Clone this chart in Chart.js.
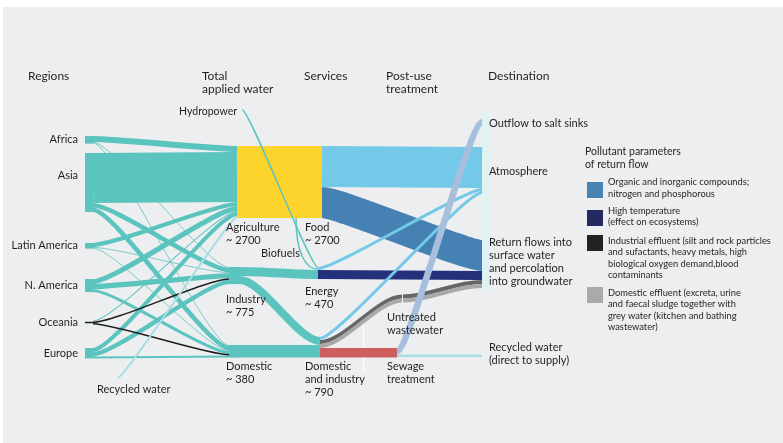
<!DOCTYPE html>
<html><head><meta charset="utf-8">
<script src="https://cdn.jsdelivr.net/npm/chart.js@4.4.1/dist/chart.umd.min.js"></script>
<style>html,body{margin:0;padding:0;background:#fff;overflow:hidden}#wrap{width:783px;height:443px}</style>
</head><body><div id="wrap"><canvas id="c" width="783" height="443"></canvas></div>
<script>
// ================= DATA (km³ per year) =================
const stages = ['Regions', 'Total applied water', 'Services', 'Post-use treatment', 'Destination'];
const regions = ['Africa', 'Asia', 'Latin America', 'N. America', 'Oceania', 'Europe'];
const regionToAgriculture = [225, 1875, 150, 190, 38, 150];
const regionToIndustry    = [30, 170, 30, 190, 56, 165];
const regionToDomestic    = [30, 170, 30, 112, 56, 75];
const recycledToAgriculture = 75;
const sectors = ['Agriculture', 'Industry', 'Domestic'];
const sectorTotals = [2700, 775, 380];
const services = ['Food', 'Energy', 'Domestic and industry'];
const serviceTotals = [2700, 470, 790];
const hydropowerToEnergy = 56;
const biofuelsToEnergy = 56;
const agricultureToFood = 2700;
const industryToServices = [337, 300];          // Energy, Domestic and industry
const domesticToServices = [472];               // Domestic and industry
const foodToDestinations = [1540, 1160];        // Atmosphere, Return flows
const energyToDestinations = [112, 337];        // Atmosphere, Return flows
const domIndOutflows = [112, 150, 150, 360];    // Atmosphere, untreated industrial, untreated domestic, sewage treatment
const untreatedToReturn = [150, 150];           // industrial effluent, domestic effluent
const sewageOutflows = [244, 94];               // Outflow to salt sinks, Recycled water (direct)
const destinations = ['Outflow to salt sinks', 'Atmosphere', 'Return flows', 'Recycled water (direct to supply)'];
const legendItems = [
  ['Organic and inorganic compounds;', 'nitrogen and phosphorous'],
  ['High temperature', '(effect on ecosystems)'],
  ['Industrial effluent (silt and rock particles', 'and sufactants, heavy metals, high', 'biological oxygen demand,blood', 'contaminants'],
  ['Domestic effluent (excreta, urine', 'and faecal sludge together with', 'grey water (kitchen and bathing', 'wastewater)']
];

// ================= LAYOUT & STYLE =================
const K = 37.5; // km³ per layout unit of band thickness
const C = {
  teal: '#5cc4be', yellow: '#fdd42b', sky: '#74c9e8', blue: '#4581b3', navy: '#25317a',
  black: '#1e1e1e', dgrey: '#666666', lgrey: '#a9a9a9', red: '#cf5e5f', salt: '#a7bfdc',
  recyc: '#a8dde4', text: '#231f20'
};
const legendColors = ['#4682b4', '#24295f', '#222222', '#aaaaaa'];
const nodeLayout = {
  'Africa': {x0: 85, x1: 93, top: 136},
  'Asia': {x0: 85, x1: 93, top: 153},
  'Latin America': {x0: 85, x1: 93, top: 243},
  'N. America': {x0: 85, x1: 93, top: 279},
  'Oceania': {x0: 85, x1: 93, top: 320.5},
  'Europe': {x0: 85, x1: 93, top: 348},
  'Recycled water': {x0: 118, x1: 118, top: 376.5},
  'Hydropower': {x0: 242, x1: 242, top: 109},
  'Biofuels': {x0: 296, x1: 296, top: 217},
  'Agriculture': {x0: 237, x1: 237, top: 146},
  'Industry': {x0: 229, x1: 240, top: 267},
  'Domestic': {x0: 229, x1: 240, top: 345},
  'Food': {x0: 322, x1: 322, top: 146},
  'Energy': {x0: 318, x1: 318, top: 267},
  'Domestic and industry': {x0: 320, x1: 320, top: 337},
  'Untreated wastewater': {x0: 402, x1: 402, top: 294.5},
  'Sewage treatment': {x0: 397, x1: 397, top: 348},
  'Outflow to salt sinks': {x0: 482, x1: 482, top: 119},
  'Atmosphere': {x0: 482, x1: 482, top: 147},
  'Return flows': {x0: 482, x1: 482, top: 240},
  'Recycled water (direct to supply)': {x0: 482, x1: 482, top: 354.5}
};

// ================= FLOWS =================
const flows = [];
function add(from, to, value, color, k, z, extra) { flows.push(Object.assign({from, to, value, color, k, z}, extra || {})); }
regions.forEach((r, i) => add(r, 'Agriculture', regionToAgriculture[i], C.teal, 22, regionToAgriculture[i] < 60 ? 1 : 2));
add('Recycled water', 'Agriculture', recycledToAgriculture, C.recyc, 8, 4);
regions.forEach((r, i) => add(r, 'Industry', regionToIndustry[i], r === 'Oceania' ? C.black : C.teal, 22, r === 'Oceania' ? 3 : (regionToIndustry[i] < 60 ? 1 : 2)));
regions.forEach((r, i) => add(r, 'Domestic', regionToDomestic[i], r === 'Oceania' ? C.black : C.teal, 22, r === 'Oceania' ? 3 : (regionToDomestic[i] < 60 ? 1 : 2)));
add('Agriculture', 'Food', agricultureToFood, C.yellow, 10, 5);
add('Hydropower', 'Energy', hydropowerToEnergy, C.teal, 8, 6);
add('Biofuels', 'Energy', biofuelsToEnergy, C.teal, 0, 6, {vertical: true});
add('Industry', 'Energy', industryToServices[0], C.teal, 20, 6);
add('Industry', 'Domestic and industry', industryToServices[1], C.teal, 22, 6);
add('Domestic', 'Domestic and industry', domesticToServices[0], C.teal, 20, 6);
add('Food', 'Atmosphere', foodToDestinations[0], C.sky, 10, 7);
add('Food', 'Return flows', foodToDestinations[1], C.blue, 18, 7);
add('Energy', 'Atmosphere', energyToDestinations[0], C.sky, 18, 9);
add('Energy', 'Return flows', energyToDestinations[1], C.navy, 10, 8);
add('Domestic and industry', 'Atmosphere', domIndOutflows[0], C.sky, 18, 9);
add('Domestic and industry', 'Untreated wastewater', domIndOutflows[1], C.dgrey, 24, 8);
add('Domestic and industry', 'Untreated wastewater', domIndOutflows[2], C.lgrey, 24, 8);
add('Domestic and industry', 'Sewage treatment', domIndOutflows[3], C.red, 10, 8);
add('Untreated wastewater', 'Return flows', untreatedToReturn[0], C.dgrey, 28, 8);
add('Untreated wastewater', 'Return flows', untreatedToReturn[1], C.lgrey, 28, 8);
add('Sewage treatment', 'Outflow to salt sinks', sewageOutflows[0], C.salt, 13, 10);
add('Sewage treatment', 'Recycled water (direct to supply)', sewageOutflows[1], C.recyc, 5, 10);

// stack flows at nodes
const nodes = {};
Object.keys(nodeLayout).forEach(n => nodes[n] = Object.assign({out: nodeLayout[n].top, inn: nodeLayout[n].top, sumOut: 0, sumIn: 0}, nodeLayout[n]));
flows.forEach(f => {
  const w = f.value / K, s = nodes[f.from], t = nodes[f.to];
  f.w = w; f.x0 = s.x1; f.y0 = s.out + w / 2; s.out += w; s.sumOut += w;
  f.x1 = t.x0; f.y1 = t.inn + w / 2; t.inn += w; t.sumIn += w;
});

// text layout (layout units, alphabetic baseline)
const headerLines = [[ 'Regions' ], ['Total', 'applied water'], ['Services'], ['Post-use', 'treatment'], ['Destination']];
const headerX = [28, 202, 304, 386, 488];
const regionLabelY = [143, 179, 249, 289, 326, 357];
const nodeLabels = [
  {t: ['Hydropower'], x: 237, y: 115, s: 10.5, a: 'right'},
  {t: ['Recycled water'], x: 97, y: 393, s: 11},
  {t: ['Agriculture', '~ 2700'], x: 226, y: 231, s: 11},
  {t: ['Biofuels'], x: 261, y: 257, s: 11},
  {t: ['Industry', '~ 775'], x: 226, y: 303, s: 11},
  {t: ['Domestic', '~ 380'], x: 226, y: 370, s: 11},
  {t: ['Food', '~ 2700'], x: 305, y: 231, s: 11},
  {t: ['Energy', '~ 470'], x: 305, y: 295, s: 11},
  {t: ['Domestic', 'and industry', '~ 790'], x: 305, y: 370, s: 11},
  {t: ['Untreated', 'wastewater'], x: 387, y: 321, s: 11},
  {t: ['Sewage', 'treatment'], x: 387, y: 370, s: 11},
  {t: ['Outflow to salt sinks'], x: 489, y: 127, s: 11},
  {t: ['Atmosphere'], x: 489, y: 175, s: 11},
  {t: ['Return flows into', 'surface water', 'and percolation', 'into groundwater'], x: 489, y: 246, s: 11},
  {t: ['Recycled water', '(direct to supply)'], x: 489, y: 351, s: 11}
];

const sankeyPlugin = {
  id: 'sankey',
  beforeDraw(chart) {
    const {ctx, scales: {x, y}} = chart;
    ctx.save();
    ctx.fillStyle = '#ffffff'; ctx.fillRect(0, 0, chart.width, chart.height);
    ctx.fillStyle = '#edeef0';
    ctx.fillRect(x.getPixelForValue(3), y.getPixelForValue(7), x.getPixelForValue(783) - x.getPixelForValue(3), y.getPixelForValue(443) - y.getPixelForValue(7));
    ctx.restore();
  },
  afterDraw(chart) {
    const {ctx, scales: {x, y}} = chart;
    const px = v => x.getPixelForValue(v), py = v => y.getPixelForValue(v);
    const th = v => Math.abs(y.getPixelForValue(v / K) - y.getPixelForValue(0));
    ctx.save();
    // destination band
    ctx.fillStyle = '#e1f2f2';
    ctx.fillRect(px(482), py(113), px(489) - px(482), py(290) - py(113));

    function drawFlow(f) {
      const x0 = px(f.x0), y0 = py(f.y0), x1 = px(f.x1), y1 = py(f.y1);
      ctx.beginPath();
      ctx.lineWidth = Math.max(th(f.value), 0.8);
      ctx.strokeStyle = f.color; ctx.lineCap = 'butt'; ctx.lineJoin = 'round';
      ctx.moveTo(x0, y0);
      if (f.vertical) ctx.bezierCurveTo(x0, y0 + (y1 - y0) * 0.7, x1 - 12, y1, x1, y1);
      else ctx.bezierCurveTo(x0 + f.k, y0, x1 - f.k, y1, x1, y1);
      ctx.stroke();
    }
    const zs = [...new Set(flows.map(f => f.z))].sort((a, b) => a - b);
    zs.forEach(z => {
      if (z === 5) {
        ['Industry', 'Domestic'].forEach(n => {
          const nd = nodes[n]; ctx.fillStyle = C.teal;
          ctx.fillRect(px(nd.x0), py(nd.top), px(nd.x1) - px(nd.x0), py(nd.top + nd.sumIn) - py(nd.top));
        });
        regions.forEach(r => {
          const nd = nodes[r]; ctx.fillStyle = r === 'Oceania' ? C.black : C.teal;
          const h = r === 'Oceania' ? 1.5 : nd.sumOut;
          const t0 = r === 'Oceania' ? nd.top + nd.sumOut / 2 - 0.75 : nd.top;
          ctx.fillRect(px(nd.x0), py(t0), px(nd.x1) - px(nd.x0), py(t0 + h) - py(t0));
        });
      }
      if (z === 8) {
        ctx.strokeStyle = '#ffffff'; ctx.lineWidth = 1;
        ctx.beginPath(); ctx.moveTo(px(363) + 0.5, py(323)); ctx.lineTo(px(363) + 0.5, py(373)); ctx.stroke();
      }
      flows.filter(f => f.z === z).forEach(drawFlow);
      if (z === 8) {
        ctx.strokeStyle = 'rgba(255,255,255,0.8)'; ctx.lineWidth = 1;
        ctx.beginPath(); ctx.moveTo(px(402) + 0.5, py(293)); ctx.lineTo(px(402) + 0.5, py(303)); ctx.stroke();
      }
    });

    // texts
    const FF = 'Lato, "Open Sans", sans-serif';
    function text(lines, xx, yy, size, align, lh) {
      ctx.font = size + 'px ' + FF; ctx.fillStyle = C.text; ctx.textAlign = align || 'left'; ctx.textBaseline = 'alphabetic';
      lines.forEach((l, i) => ctx.fillText(l, px(xx), py(yy + i * (lh || size * 1.2))));
    }
    stages.forEach((s, i) => text(headerLines[i], headerX[i], 80, 12, 'left', 13));
    regions.forEach((r, i) => text([r], 78, regionLabelY[i], 11, 'right'));
    nodeLabels.forEach(l => text(l.t, l.x, l.y, l.s, l.a, 13));
    // legend
    text(['Pollutant parameters', 'of return flow'], 585, 155, 10.5, 'left', 12.5);
    const legY = [182, 210, 235, 287];
    legendItems.forEach((lines, i) => {
      ctx.fillStyle = legendColors[i];
      ctx.fillRect(px(587), py(legY[i]), px(603) - px(587), py(legY[i] + 16) - py(legY[i]));
      text(lines, 608, legY[i] + 3 + (i === 1 ? 0.5 : 0) + (i >= 2 ? 5.5 : 0), 9.3, 'left', 11.5);
    });
    ctx.restore();
  }
};

new Chart(document.getElementById('c'), {
  type: 'scatter',
  data: {datasets: []},
  options: {
    responsive: false, animation: false, devicePixelRatio: 1, events: [],
    layout: {padding: 0},
    plugins: {legend: {display: false}, tooltip: {enabled: false}},
    scales: {
      x: {type: 'linear', min: 0, max: 783, display: false},
      y: {type: 'linear', min: 0, max: 443, reverse: true, display: false}
    }
  },
  plugins: [sankeyPlugin]
});
</script></body></html>
